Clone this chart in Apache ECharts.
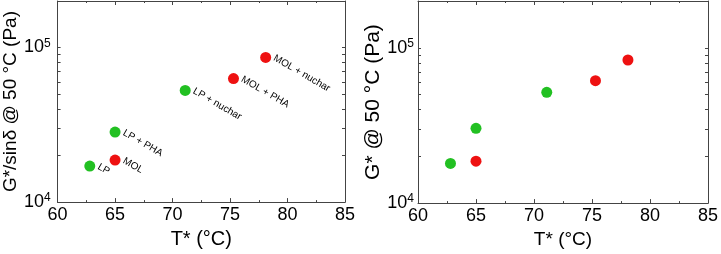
<!DOCTYPE html>
<html>
<head>
<meta charset="utf-8">
<script src="https://cdn.jsdelivr.net/npm/echarts@6/dist/echarts.min.js"></script>
<style>
  html, body { margin: 0; padding: 0; background: #fff; }
  #chart { width: 721px; height: 254px; }
</style>
</head>
<body>
<div id="chart"></div>
<script>
// samples, T* (degC), G*/sin(delta) and G* at 50 degC (Pa)
var sampleNames = ['LP', 'MOL', 'LP + PHA', 'LP + nuchar', 'MOL + PHA', 'MOL + nuchar']
var sampleBase = ['LP', 'MOL', 'LP', 'LP', 'MOL', 'MOL']
var tStar = [62.8, 65.0, 65.0, 71.1, 75.3, 78.1]
var gSinDelta = [17100, 18700, 28400, 52800, 63000, 86300]
var gStar = [18000, 18600, 30300, 51700, 61400, 83400]

var xTicks = [60, 65, 70, 75, 80, 85]
var yLabelTicks = [10000, 100000]
var yMinorTicks = [10000, 20000, 30000, 40000, 50000, 60000, 70000, 80000, 90000, 100000, 200000]

var FONT = '"Liberation Sans", Arial, sans-serif'
var GREEN = '#22c022'
var RED = '#ee1111'
var AXIS = '#444'

var chart = echarts.init(document.getElementById('chart'))

function pick(yValues, base) {
	var out = []
	for (var i = 0; i < tStar.length; i++) {
		if (sampleBase[i] === base) {
			out.push({ value: [tStar[i], yValues[i]], name: sampleNames[i] })
		}
	}
	return out
}

function xAxisFor(grid, pos, titleSize) {
	var labels = pos === 'bottom'
	return {
		type: 'value',
		gridIndex: grid,
		position: pos,
		min: xTicks[0],
		max: xTicks[xTicks.length - 1],
		interval: 5,
		name: labels ? 'T* (°C)' : '',
		nameLocation: 'middle',
		nameGap: 26,
		nameTextStyle: { fontSize: titleSize, color: '#000', fontFamily: FONT },
		axisLine: { show: true, lineStyle: { color: AXIS, width: 1 } },
		axisTick: { show: true, inside: true, length: 4, lineStyle: { color: AXIS } },
		minorTick: { show: true, splitNumber: 2, length: 2, lineStyle: { color: AXIS } },
		axisLabel: {
			show: labels,
			fontSize: 18,
			color: '#000',
			fontFamily: FONT,
			margin: 4
		},
		splitLine: { show: false }
	}
}

function yAxisFor(grid, pos, name, titleSize, nameGap, labelMargin) {
	var labels = pos === 'left'
	return {
		type: 'log',
		gridIndex: grid,
		position: pos,
		min: 10000,
		max: 200000,
		name: labels ? name : '',
		nameLocation: 'middle',
		nameGap: nameGap,
		nameTextStyle: { fontSize: titleSize, color: '#000', fontFamily: FONT },
		axisLine: { show: true, lineStyle: { color: AXIS, width: 1 } },
		axisTick: {
			show: true,
			inside: true,
			length: 3,
			customValues: yMinorTicks,
			lineStyle: { color: AXIS }
		},
		axisLabel: {
			show: labels,
			customValues: yLabelTicks,
			margin: labelMargin,
			color: '#000',
			fontFamily: FONT,
			formatter: function (v) {
				return '{b|10}{s|' + Math.round(Math.log10(v)) + '}'
			},
			rich: {
				b: { fontSize: 18, fontFamily: FONT, color: '#000' },
				s: { fontSize: 12, fontFamily: FONT, color: '#000', verticalAlign: 'top', padding: [0, 0, 8, 0] }
			}
		},
		splitLine: { show: false }
	}
}

function dots(grid, yValues, base, color, withLabels) {
	return {
		type: 'scatter',
		xAxisIndex: grid * 2,
		yAxisIndex: grid * 2,
		symbol: 'circle',
		symbolSize: 11,
		itemStyle: { color: color, opacity: 1 },
		label: {
			show: withLabels,
			position: 'right',
			distance: 3,
			rotate: -30,
			fontSize: 10,
			color: '#000',
			fontFamily: FONT,
			formatter: '{b}'
		},
		data: pick(yValues, base)
	}
}

chart.setOption({
	backgroundColor: '#fff',
	animation: false,
	grid: [
		{ left: 53, top: 1, width: 292, height: 203 },
		{ left: 418, top: 1, width: 292, height: 203 }
	],
	xAxis: [
		xAxisFor(0, 'bottom', 20),
		xAxisFor(0, 'top', 20),
		xAxisFor(1, 'bottom', 19),
		xAxisFor(1, 'top', 19)
	],
	yAxis: [
		yAxisFor(0, 'left', 'G*/sinδ @ 50 °C (Pa)', 19, 31, 7),
		yAxisFor(0, 'right', '', 19, 31, 7),
		yAxisFor(1, 'left', 'G* @ 50 °C (Pa)', 21, 28, 4),
		yAxisFor(1, 'right', '', 21, 28, 4)
	],
	series: [
		dots(0, gSinDelta, 'LP', GREEN, true),
		dots(0, gSinDelta, 'MOL', RED, true),
		dots(1, gStar, 'LP', GREEN, false),
		dots(1, gStar, 'MOL', RED, false)
	]
})
</script>
</body>
</html>
